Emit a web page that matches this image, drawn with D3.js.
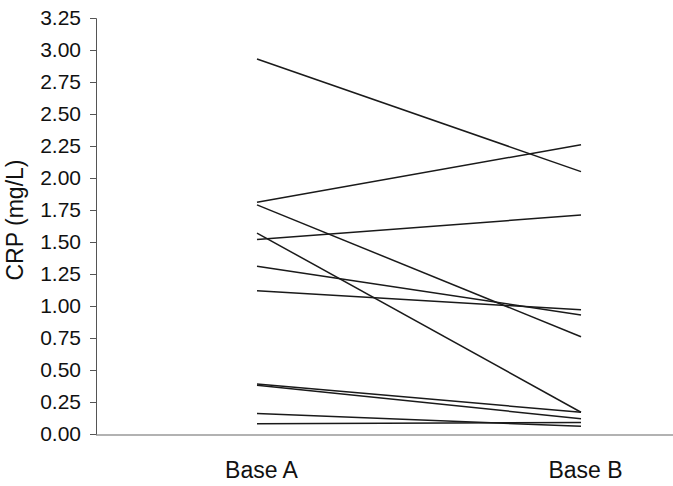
<!DOCTYPE html>
<html>
<head>
<meta charset="utf-8">
<script src="https://cdn.jsdelivr.net/npm/d3@7"></script>
<style>
  body { margin: 0; background: #fff; }
  text { font-family: "Liberation Sans", Arial, sans-serif; fill: #111; }
</style>
</head>
<body>
<script>
// one line per subject: CRP at Base A and Base B
const groups = ["Base A", "Base B"];
const baseA = [2.93, 1.81, 1.79, 1.57, 1.52, 1.31, 1.12, 0.39, 0.38, 0.16, 0.08];
const baseB = [2.05, 2.26, 0.76, 0.17, 1.71, 0.93, 0.97, 0.17, 0.12, 0.06, 0.09];
const yTicks = [0, 0.25, 0.5, 0.75, 1, 1.25, 1.5, 1.75, 2, 2.25, 2.5, 2.75, 3, 3.25];

const W = 673, H = 486;
const m = {top: 18, bottom: 52, left: 96, right: 0};
const h = H - m.top - m.bottom;
const w = W - m.left - m.right;

const svg = d3.select("body")
    .append("svg")
    .attr("width", W)
    .attr("height", H)
    .append("g")
    .attr("transform", `translate(${m.left}, ${m.top})`);

const x = d3.scalePoint()
    .domain(groups)
    .range([161, 485]);

const y = d3.scaleLinear()
    .domain([0, 3.25])
    .range([h, 0]);

// y axis
const ya = svg.append("g")
    .call(d3.axisLeft(y).tickValues(yTicks).tickFormat(d3.format(".2f")).tickSize(6).tickPadding(9));
ya.selectAll("text").style("font-size", "21px");
ya.selectAll("line, path").attr("stroke", "#555");

// x axis baseline runs to the right edge
svg.append("line")
    .attr("x1", 0).attr("x2", w)
    .attr("y1", h + 1).attr("y2", h + 1)
    .attr("stroke", "#666")
    .attr("stroke-width", 1.2);

const xa = svg.append("g")
    .attr("transform", `translate(0, ${h})`)
    .call(d3.axisBottom(x).tickSize(0).tickPadding(28));
xa.select(".domain").remove();
xa.selectAll("text").style("font-size", "23px").attr("dx", 4);

svg.append("text")
    .attr("transform", "rotate(-90)")
    .attr("x", -(220 - m.top))
    .attr("y", -73)
    .attr("text-anchor", "middle")
    .style("font-size", "23px")
    .text("CRP (mg/L)");

// subject lines
svg.selectAll(".subj")
    .data(d3.range(baseA.length))
    .enter()
    .append("line")
    .attr("class", "subj")
    .attr("x1", x("Base A"))
    .attr("x2", x("Base B"))
    .attr("y1", i => y(baseA[i]))
    .attr("y2", i => y(baseB[i]))
    .attr("stroke", "#1a1a1a")
    .attr("stroke-width", 1.5);
</script>
</body>
</html>
